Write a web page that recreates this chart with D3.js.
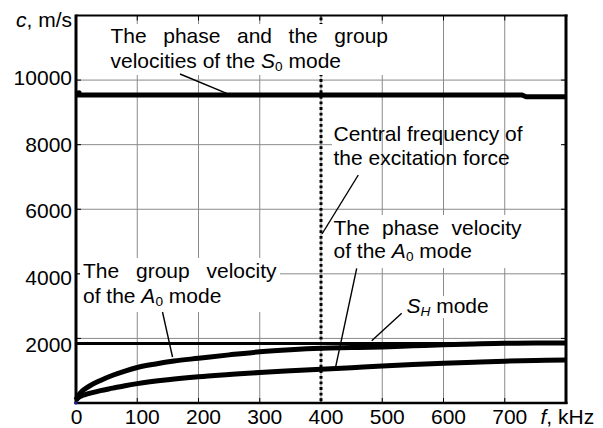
<!DOCTYPE html>
<html><head><meta charset="utf-8">
<script src="https://cdn.jsdelivr.net/npm/d3@7"></script>
<style>
body{margin:0;background:#fff}
svg{display:block}
text{font-family:"Liberation Sans",Arial,Helvetica,sans-serif;fill:#000}
</style>
</head><body>
<svg id="c" width="603" height="428"></svg>
<script>
// ---------- data ----------
const xTicks = [0, 100, 200, 300, 400, 500, 600, 700];
const yTicks = [2000, 4000, 6000, 8000, 10000];
const centralFreq = 400;

const freqS0 = [0, 728, 735, 800];
const velS0  = [9540, 9540, 9485, 9485];

const freqSH = [0, 800];
const velSH  = [1840, 1840];

const freqA0g = [0, 3, 8, 15, 25, 40, 60, 80, 100, 130, 160, 200, 250, 300, 350, 400, 450, 500, 550, 600, 650, 700, 750, 800];
const velA0g  = [90, 210, 330, 440, 560, 700, 860, 990, 1100, 1210, 1300, 1385, 1490, 1585, 1650, 1695, 1715, 1735, 1770, 1805, 1830, 1850, 1855, 1858];

const freqA0p = [0, 3, 8, 15, 25, 40, 60, 80, 100, 150, 200, 250, 300, 350, 400, 450, 500, 550, 600, 650, 700, 750, 800];
const velA0p  = [90, 150, 210, 260, 315, 385, 460, 535, 600, 720, 810, 880, 945, 995, 1045, 1095, 1145, 1190, 1230, 1265, 1295, 1315, 1332];

// ---------- scales ----------
const svg = d3.select('#c');
const x = d3.scaleLinear().domain([0, 800]).range([76, 566]);
const y = d3.scaleLinear().domain([0, 12000]).range([403, 15.5]);
const yLab = d3.scaleLinear().domain([2000, 10000]).range([351.7, 85]);
const SX = 1.05, FS = 20;

// horizontal grid
svg.append('g').selectAll('line').data(yTicks).join('line')
  .attr('x1', x(0)).attr('x2', x(800)).attr('y1', d => y(d)).attr('y2', d => y(d))
  .attr('stroke', '#8a8a8a').attr('stroke-width', 1);

// box hiding horizontal grid behind "Central frequency" text
svg.append('rect').attr('x', 332).attr('y', 120).attr('width', 231).attr('height', 48).attr('fill', '#fff');

// vertical grid
svg.append('g').selectAll('line').data(xTicks.filter(d => d > 0)).join('line')
  .attr('x1', d => x(d)).attr('x2', d => x(d)).attr('y1', y(12000)).attr('y2', y(0))
  .attr('stroke', '#8a8a8a').attr('stroke-width', 1);

// inner ticks
const tk = svg.append('g').attr('stroke', '#000').attr('stroke-width', 1);
yTicks.forEach(v => {
  tk.append('line').attr('x1', x(0)).attr('x2', x(0) + 5).attr('y1', y(v)).attr('y2', y(v));
  tk.append('line').attr('x1', x(800) - 5).attr('x2', x(800)).attr('y1', y(v)).attr('y2', y(v));
});
xTicks.filter(d => d > 0).forEach(v => {
  tk.append('line').attr('x1', x(v)).attr('x2', x(v)).attr('y1', y(0) - 5).attr('y2', y(0));
  tk.append('line').attr('x1', x(v)).attr('x2', x(v)).attr('y1', y(12000)).attr('y2', y(12000) + 5);
});

// dotted central frequency line
svg.append('line').attr('x1', x(centralFreq)).attr('x2', x(centralFreq))
  .attr('y1', y(12000) + 2).attr('y2', y(0))
  .attr('stroke', '#000').attr('stroke-width', 3).attr('stroke-dasharray', '2.8 2.8');

// white text boxes
[[106, 24, 286, 51], [80, 258, 200, 54], [331, 215, 232, 53], [404, 296, 88, 22]].forEach(b => {
  svg.append('rect').attr('x', b[0]).attr('y', b[1]).attr('width', b[2]).attr('height', b[3]).attr('fill', '#fff');
});

// curves
const line = d3.line().x(d => x(d[0])).y(d => y(d[1])).curve(d3.curveMonotoneX);
const zip = (a, b) => a.map((v, i) => [v, b[i]]);
const lineLin = d3.line().x(d => x(d[0])).y(d => y(d[1]));
svg.append('path').attr('d', lineLin(zip(freqS0, velS0))).attr('fill', 'none').attr('stroke', '#000').attr('stroke-width', 5);
svg.append('circle').attr('cx', x(freqS0[0]) + 3).attr('cy', y(velS0[0]) - 2).attr('r', 2.6).attr('fill', '#000');
svg.append('path').attr('d', lineLin(zip(freqSH, velSH))).attr('fill', 'none').attr('stroke', '#000').attr('stroke-width', 3);
svg.append('path').attr('d', line(zip(freqA0g, velA0g))).attr('fill', 'none').attr('stroke', '#000').attr('stroke-width', 5);
svg.append('path').attr('d', line(zip(freqA0p, velA0p))).attr('fill', 'none').attr('stroke', '#000').attr('stroke-width', 5);

// leader lines
[[180, 74, 226.7, 93.3], [358.3, 175, 322, 234], [356.7, 268.3, 335.7, 366.7],
 [162.5, 312, 172.5, 357], [401.7, 313.3, 371.7, 340.7]].forEach(l => {
  svg.append('line').attr('x1', l[0]).attr('y1', l[1]).attr('x2', l[2]).attr('y2', l[3])
    .attr('stroke', '#000').attr('stroke-width', 1.4);
});

// borders
const bd = svg.append('g').attr('stroke', '#000');
bd.append('line').attr('x1', x(0)).attr('x2', x(800) + 1.5).attr('y1', y(12000)).attr('y2', y(12000)).attr('stroke-width', 2);
bd.append('line').attr('x1', x(0) - 1.5).attr('x2', x(800) + 1.5).attr('y1', y(0)).attr('y2', y(0)).attr('stroke-width', 2.5);
bd.append('line').attr('x1', x(0)).attr('x2', x(0)).attr('y1', y(12000) - 1).attr('y2', y(0) + 1).attr('stroke-width', 3);
bd.append('line').attr('x1', x(800)).attr('x2', x(800)).attr('y1', y(12000) - 1).attr('y2', y(0) + 1).attr('stroke-width', 3);
svg.append('circle').attr('cx', x(0)).attr('cy', y(0)).attr('r', 1.5).attr('fill', '#1a1aa0');

// text helper: parts = [[str, style]], style: '', 'i', 'sub', 'isub'
function addText(parts, tx, ty, anchor, targetW) {
  const t = svg.append('text').attr('transform', `translate(${tx},${ty}) scale(${SX},1)`)
    .attr('font-size', FS).attr('text-anchor', anchor || 'start');
  parts.forEach(p => {
    const [s, st] = p;
    const ts = t.append('tspan').text(s);
    if (st === 'i' || st === 'isub') ts.attr('font-style', 'italic');
    if (st === 'sub' || st === 'isub') {
      ts.attr('font-size', 13).attr('dy', 3);
    }
  });
  const tsp = t.selectAll('tspan').nodes();
  for (let i = 1; i < parts.length; i++) {
    const prev = parts[i - 1][1];
    if ((prev === 'sub' || prev === 'isub') && !(parts[i][1] === 'sub' || parts[i][1] === 'isub')) {
      d3.select(tsp[i]).attr('dy', -3);
    }
  }
  if (targetW) {
    const full = parts.map(p => p[0]).join('');
    const n = (full.match(/ /g) || []).length;
    const nat = t.node().getComputedTextLength();
    const ws = (targetW / SX - nat) / n;
    t.attr('word-spacing', ws);
  }
  return t;
}

// axis labels
xTicks.forEach(v => addText([[String(v), '']], x(v) + (v === 0 ? 0.5 : 5), 424, 'middle'));
yTicks.forEach(v => addText([[String(v), '']], 72, yLab(v), 'end'));
addText([['c', 'i'], [', m/s', '']], 72, 27, 'end');
addText([['f', 'i'], [', kHz', '']], 540.5, 424, 'start');

// annotations
addText([['The phase and the group', '']], 110.5, 43, 'start', 277.5);
addText([['velocities of the ', ''], ['S', 'i'], ['0', 'sub'], [' mode', '']], 110.5, 68, 'start');
addText([['Central frequency of', '']], 333.5, 140.5, 'start');
addText([['the excitation force', '']], 333.5, 165, 'start');
addText([['The phase velocity', '']], 333.5, 235, 'start', 188);
addText([['of the ', ''], ['A', 'i'], ['0', 'sub'], [' mode', '']], 333.5, 258, 'start');
addText([['The group velocity', '']], 83, 278.3, 'start', 193.5);
addText([['of the ', ''], ['A', 'i'], ['0', 'sub'], [' mode', '']], 83, 303.3, 'start');
addText([['S', 'i'], ['H', 'isub'], [' mode', '']], 406.5, 313.3, 'start');
</script>
</body></html>
